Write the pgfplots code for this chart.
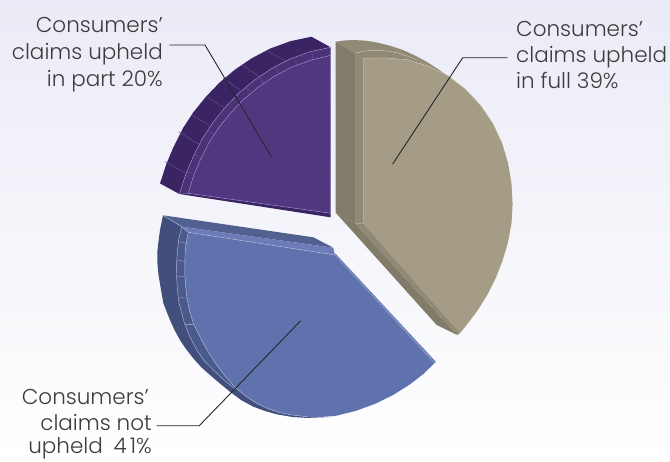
\documentclass[border=0pt]{standalone}
\usepackage{pgfplots}
\pgfplotsset{compat=1.18}
\usepackage{fontspec}
\setmainfont{Poppins Light}
\definecolor{bgtop}{HTML}{EAEBF6}
\definecolor{inklabel}{HTML}{3C3C3C}
\definecolor{leader}{HTML}{26262A}
% purple slice
\definecolor{pBack}{HTML}{3A2464}
\definecolor{pRim}{HTML}{4A3278}
\definecolor{pFace}{HTML}{50377F}
\definecolor{pLine}{HTML}{9A8BBE}
\definecolor{pTick}{HTML}{66528F}
% tan slice
\definecolor{tTop}{HTML}{918B76}
\definecolor{tSide}{HTML}{817B69}
\definecolor{tRim}{HTML}{8F8975}
\definecolor{tFace}{HTML}{A49C84}
\definecolor{tLine}{HTML}{C8C3B2}
% blue slice
\definecolor{bBack}{HTML}{424F7D}
\definecolor{bTop}{HTML}{51608F}
\definecolor{bRim}{HTML}{4A5A8A}
\definecolor{bTopRim}{HTML}{6B7CB8}
\definecolor{bFace}{HTML}{6072AD}
\definecolor{bLine}{HTML}{AEB8DA}
\definecolor{bEdge}{HTML}{8C9BCB}
\pgfplotsset{
  patch/.style={draw=none, fill=#1},
  seam/.style={#1, line width=0.45pt},
}
\begin{document}
\begin{tikzpicture}
\begin{axis}[
  scale only axis, width=670pt, height=461pt,
  xmin=0, xmax=670, ymin=0, ymax=461, y dir=reverse,
  axis lines=none, clip=false,
  axis background/.style={top color=bgtop, bottom color=white},
]
% Slice: upheld in part (20%)
\addplot[patch=pBack] coordinates {(160,183.4)(166.4,163.9)(173.5,147)(182.8,128.4)(193.4,112.2)(205.7,97)(219.4,82.7)(234.7,69.8)(251.7,58.3)(270.1,48.6)(290.3,41.2)(311.4,36.7)(330.7,47.3)(309.6,51.8)(289.4,59.2)(271,68.9)(254,80.4)(238.7,93.3)(225,107.6)(212.7,122.8)(202.1,139)(192.8,157.6)(185.7,174.5)(179.3,194)};
\addplot[patch=pRim] coordinates {(179.3,194)(185.7,174.5)(192.8,157.6)(202.1,139)(212.7,122.8)(225,107.6)(238.7,93.3)(254,80.4)(271,68.9)(289.4,59.2)(309.6,51.8)(330.7,47.3)(330.7,55.3)(310.7,60.2)(291.6,67.2)(274.1,76.4)(258,87.3)(243.5,99.6)(230.5,113.1)(218.9,127.5)(208.8,142.9)(200,160.5)(193.3,176.5)(188.3,193.3)};
\addplot[patch=pFace] coordinates {(188.3,193.3)(193.3,176.5)(200,160.5)(208.8,142.9)(218.9,127.5)(230.5,113.1)(243.5,99.6)(258,87.3)(274.1,76.4)(291.6,67.2)(310.7,60.2)(330.7,55.3)(330.7,213.3)};
\addplot[patch=pBack] coordinates {(179.3,194)(330.7,217.3)(330.7,213.3)(188.3,193.3)};
\addplot[seam=pLine] coordinates {(179.3,194)(185.7,174.5)(192.8,157.6)(202.1,139)(212.7,122.8)(225,107.6)(238.7,93.3)(254,80.4)(271,68.9)(289.4,59.2)(309.6,51.8)(330.7,47.3)};
\addplot[seam=pLine] coordinates {(188.3,193.3)(193.3,176.5)(200,160.5)(208.8,142.9)(218.9,127.5)(230.5,113.1)(243.5,99.6)(258,87.3)(274.1,76.4)(291.6,67.2)(310.7,60.2)(330.7,55.3)};
\addplot[seam=pLine] coordinates {(188.3,193.3)(330.7,213.3)};
\addplot[seam=pTick] coordinates {(165,161.7)(185,172.7)};
\addplot[seam=pTick] coordinates {(178.3,131.7)(198.3,144)};
\addplot[seam=pTick] coordinates {(191.7,115)(211.7,126.7)};
\addplot[seam=pTick] coordinates {(206.7,96.7)(225,108.3)};
\addplot[seam=pTick] coordinates {(223.3,78.3)(240,90)};
\addplot[seam=pTick] coordinates {(241.7,65)(259.3,76.7)};
\addplot[seam=pTick] coordinates {(266.7,50.7)(285,60.7)};
\addplot[seam=pTick] coordinates {(185,171.7)(193.3,173.3)};
\addplot[seam=pTick] coordinates {(193.3,155)(203.3,156.7)};
\addplot[seam=pTick] coordinates {(208.3,130.7)(214,135)};
\addplot[seam=pTick] coordinates {(246.7,88.3)(251.7,92.7)};
\addplot[seam=pTick] coordinates {(258.3,76.7)(264,83.3)};
\addplot[seam=pTick] coordinates {(275,66.7)(278.3,72.7)};
\addplot[seam=pTick] coordinates {(295,60)(296.7,65)};
\addplot[seam=pTick] coordinates {(311.7,51.7)(312.7,58.3)};
% Slice: upheld in full (39%)
\addplot[patch=tTop] coordinates {(335.7,41.7)(344,40.5)(353,40)(365,40.6)(377,42.5)(390,45.7)(403,50)(415,55.5)(427,62)(438,69)(450,78)(438,71)(427,65)(417,60)(407,56)(397,52.8)(387,51)(376,50.3)(365,51)(355,53.3)};
\addplot[patch=tSide] coordinates {(335.7,41.7)(355,53.3)(355,223.3)(335.7,212.7)};
\addplot[patch=tRim] coordinates {(355,53.3)(365,51)(376,50.3)(387,51)(397,52.8)(407,56)(417,60)(427,65)(438,71)(450,78)(448.3,76)(428.5,66.1)(407.2,59.7)(385.4,57.9)(363.3,58.3)(363.3,223.3)(355,223.3)};
\addplot[patch=tFace] coordinates {(363.3,58.3)(385.4,57.9)(407.2,59.7)(428.5,66.1)(448.3,76)(465.8,89.5)(480.9,105.7)(493,123.7)(502.1,143.1)(508.1,163.2)(511.5,183.6)(512.6,203.7)(511.5,223.3)(508,242.3)(502.6,260.6)(495.7,278.1)(487.3,294.9)(477.3,310.9)(465.9,325.9)(460,333)(363.3,223.3)};
\addplot[patch=tSide] coordinates {(335.7,212.7)(355,223.3)(457.3,335)(436.7,325)};
\addplot[patch=tRim] coordinates {(355,223.3)(363.3,223.3)(460,333)(457.3,335)};
\addplot[seam=tLine] coordinates {(363.3,58.3)(385.4,57.9)(407.2,59.7)(428.5,66.1)(448.3,76)(465.8,89.5)(480.9,105.7)(493,123.7)(502.1,143.1)};
\addplot[seam=tLine] coordinates {(355,53.3)(365,51)(376,50.3)(387,51)(397,52.8)(407,56)(417,60)};
\addplot[seam=tRim] coordinates {(376.7,51)(380,57.3)};
\addplot[seam=tRim] coordinates {(391.7,51.7)(400,59.3)};
\addplot[seam=tFace] coordinates {(363.3,223.3)(460,333)};
% Slice: not upheld (41%)
\addplot[patch=bBack] coordinates {(163,215.3)(160,230)(158.3,243)(157.5,250)(157.3,262)(158.5,275)(161,290)(163.3,303)(166,310)(170,320)(174.5,330)(180,340)(186,349)(193.3,358.3)(201,367)(210,375)(220,383.6)(230,391.7)(241,400)(253.3,406.7)(265,411)(276.7,414.3)(292,416.9)(306.7,417.9)(330,417)(320,417)(306.7,416.7)(292.2,415)(280,412.7)(268,408.7)(256.7,403.3)(245.5,396)(235,387.3)(225.5,376.5)(216.7,365)(209.5,354)(203.3,343.3)(198,333)(193.3,323.3)(189.8,311.5)(187.3,300)(185.7,287)(184.8,273.8)(185,255)(186,243.5)(188.3,232.3)(181.7,226.7)};
\addplot[patch=bRim] coordinates {(181.7,226.7)(179,238)(177.5,250)(176.7,262)(176.5,275)(177.3,288)(178.8,302)(184,321.7)(189.5,336)(196.7,350)(204,360.5)(213.3,370)(224,380)(235,389)(225.5,376.5)(216.7,365)(209.5,354)(203.3,343.3)(198,333)(193.3,323.3)(189.8,311.5)(187.3,300)(185.7,287)(184.8,273.8)(185,255)(186,243.5)(188.3,232.3)};
\addplot[patch=bTop] coordinates {(163,215.3)(313.3,237.3)(333.3,247.7)(181.7,226.7)};
\addplot[patch=bTopRim] coordinates {(181.7,226.7)(333.3,247.7)(335,255)(188.3,232.3)};
\addplot[patch=bFace] coordinates {(188.3,232.3)(335,255)(435,362.7)(423.1,374.2)(409.8,384.5)(393.3,394.9)(374.9,403.9)(355.4,411)(335,416)(320,417)(306.7,416.7)(292.2,415)(280,412.7)(268,408.7)(256.7,403.3)(245.5,396)(235,387.3)(225.5,376.5)(216.7,365)(209.5,354)(203.3,343.3)(198,333)(193.3,323.3)(189.8,311.5)(187.3,300)(185.7,287)(184.8,273.8)(185,255)(186,243.5)};
\addplot[seam=bTopRim, line width=1.2pt] coordinates {(335,254)(435.5,362.2)};
\addplot[seam=bEdge] coordinates {(335,255)(434,362.7)};
\addplot[seam=bLine] coordinates {(188.3,232.3)(335,255)};
\addplot[seam=bLine] coordinates {(163,215.3)(181.7,226.7)(188.3,232.3)};
\addplot[seam=bLine] coordinates {(181.7,226.7)(179,238)(177.5,250)(176.7,262)(176.5,275)(177.3,288)(178.8,302)(184,321.7)(189.5,336)(196.7,350)(204,360.5)(213.3,370)(224,380)(235,389)};
\addplot[seam=bLine] coordinates {(188.3,232.3)(186,243.5)(185,255)(184.8,273.8)(185.7,287)(187.3,300)(189.8,311.5)(193.3,323.3)(198,333)(203.3,343.3)(209.5,354)(216.7,365)(225.5,376.5)(235,387.3)(245.5,396)(256.7,403.3)(268,408.7)(280,412.7)(292.2,415)(306.7,416.7)};
\addplot[seam=bEdge] coordinates {(179.3,241.7)(188.3,244)};
\addplot[seam=bEdge] coordinates {(177.3,260)(185.7,261.7)};
\addplot[seam=bEdge] coordinates {(177.3,276)(185,276.7)};
\addplot[seam=bEdge] coordinates {(179.3,297.3)(187.3,298.3)};
\addplot[seam=bEdge] coordinates {(185,324.3)(193.3,324.3)};
% Leader lines
\addplot[leader, line width=0.9pt] coordinates {(169.3,45)(205,45)(271.7,157.3)};
\addplot[leader, line width=0.9pt] coordinates {(507.3,57.7)(462.7,57.7)(392.7,164)};
\addplot[leader, line width=0.9pt] coordinates {(156.7,425.7)(199.3,425.7)(300.7,320.7)};
% Labels
\begin{scope}[every node/.style={text=inklabel, inner sep=0pt, font=\fontsize{21.5}{26}\selectfont}]
\node[anchor=base east] at (axis cs:163,32.7) {Consumers’};
\node[anchor=base east] at (axis cs:163,59.3) {claims upheld};
\node[anchor=base east] at (axis cs:163,86.7) {in part 20\%};
\node[anchor=base west] at (axis cs:516,36) {Consumers’};
\node[anchor=base west] at (axis cs:516,62.7) {claims upheld};
\node[anchor=base west] at (axis cs:516,88.3) {in full 39\%};
\node[anchor=base east] at (axis cs:149,404) {Consumers’};
\node[anchor=base east] at (axis cs:152,430) {claims not};
\node[anchor=base east] at (axis cs:152,453.5) {upheld\hspace{5pt} 4\hspace{3pt}1\%};
\end{scope}
\end{axis}
\end{tikzpicture}
\end{document}
